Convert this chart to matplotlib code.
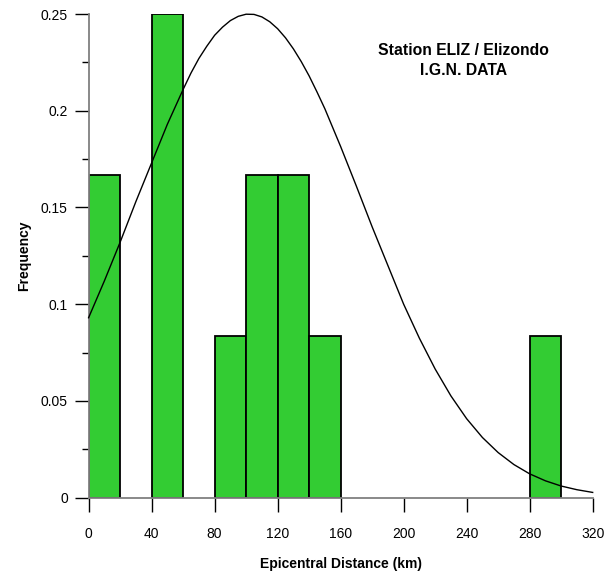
import matplotlib.pyplot as plt
from matplotlib.ticker import MultipleLocator
from matplotlib import font_manager

# histogram of epicentral distances (20 km bins)
bin_left = [0, 40, 80, 100, 120, 140, 280]
freq = [0.1667, 0.25, 0.0833, 0.1667, 0.1667, 0.0833, 0.0833]
bin_width = 20

# fitted curve
curve_x = [0, 10, 20, 30, 40, 50, 60, 65, 70, 75, 80, 85, 90, 95, 100, 105,
           110, 115, 120, 125, 130, 135, 140, 145, 150, 160, 170, 180, 190,
           200, 210, 220, 230, 240, 250, 260, 270, 280, 290, 300, 310, 320]
curve_y = [0.093, 0.112, 0.132, 0.153, 0.173, 0.193, 0.211, 0.2195, 0.227,
           0.2333, 0.239, 0.2432, 0.2466, 0.2488, 0.2499, 0.2498, 0.2485,
           0.246, 0.2424, 0.2377, 0.232, 0.2254, 0.218, 0.2097, 0.201,
           0.1815, 0.161, 0.140, 0.120, 0.100, 0.0824, 0.0665, 0.0526,
           0.0408, 0.0311, 0.0233, 0.0171, 0.0123, 0.0087, 0.0060, 0.0041,
           0.0027]

names = [f.name for f in font_manager.fontManager.ttflist]
fam = 'Liberation Sans Narrow' if 'Liberation Sans Narrow' in names else 'Liberation Sans'
plt.rcParams['font.family'] = [fam, 'DejaVu Sans']

fig = plt.figure(figsize=(6.11, 5.72), dpi=100)
ax = fig.add_axes([0.145, 0.130, 0.825, 0.8455])

ax.bar(bin_left, freq, width=bin_width, align='edge', color='#33cc33',
       edgecolor='black', linewidth=1.3, zorder=2)
ax.plot(curve_x, curve_y, color='black', linewidth=1.0, zorder=3, clip_on=False)

ax.set_xlim(0, 320)
ax.set_ylim(0, 0.25)
ax.set_xticks([0, 40, 80, 120, 160, 200, 240, 280, 320])
ax.set_yticks([0, 0.05, 0.1, 0.15, 0.2, 0.25])
ax.set_yticklabels(['0', '0.05', '0.1', '0.15', '0.2', '0.25'])
ax.yaxis.set_minor_locator(MultipleLocator(0.025))

for s in ['top', 'right']:
    ax.spines[s].set_visible(False)
for s in ['left', 'bottom']:
    ax.spines[s].set_color('#808080')
    ax.spines[s].set_linewidth(1.3)

ax.tick_params(axis='both', which='major', direction='out', length=10,
               width=1.0, color='black', labelsize=10, pad=5)
ax.tick_params(axis='y', which='minor', direction='out', length=5,
               width=1.0, color='black')
ax.tick_params(axis='x', pad=11)

ax.set_xlabel('Epicentral Distance (km)', fontsize=10, fontweight='bold')
ax.set_ylabel('Frequency', fontsize=10, fontweight='bold')
ax.xaxis.set_label_coords(0.5, -0.122)
ax.yaxis.set_label_coords(-0.115, 0.5)

ax.text(0.743, 0.94, 'Station ELIZ / Elizondo\nI.G.N. DATA', transform=ax.transAxes,
        ha='center', va='top', fontsize=11.3, fontweight='bold', linespacing=1.45)

fig.savefig('out.png', dpi=100)
